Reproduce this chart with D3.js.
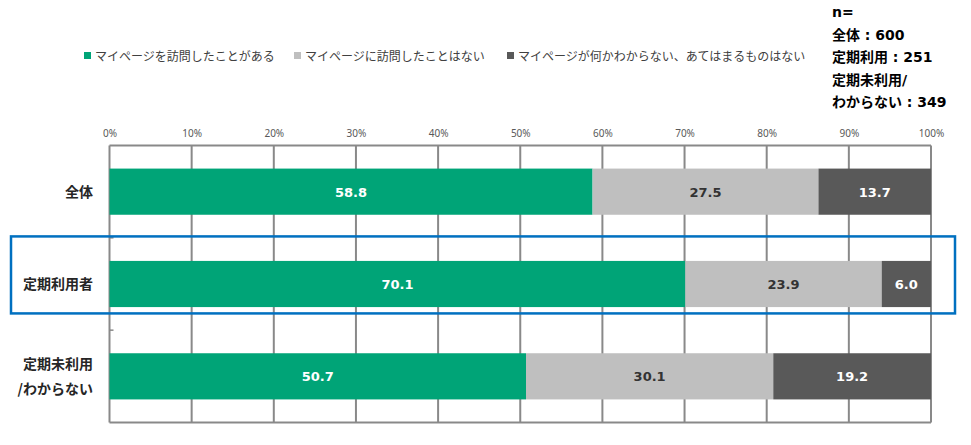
<!DOCTYPE html>
<html><head><meta charset="utf-8">
<script src="https://cdn.jsdelivr.net/npm/d3@7"></script>
<style>
body{margin:0;background:#fff;}
svg{display:block;}
</style></head>
<body>
<script>
const categories = [["全体"], ["定期利用者"], ["定期未利用", "/わからない"]];
const seriesNames = ["マイページを訪問したことがある", "マイページに訪問したことはない", "マイページが何かわからない、あてはまるものはない"];
const visited = [58.8, 70.1, 50.7];
const notVisited = [27.5, 23.9, 30.1];
const unknown = [13.7, 6.0, 19.2];
const tickValues = [0, 10, 20, 30, 40, 50, 60, 70, 80, 90, 100];
const nLines = ["n=", "全体 : 600", "定期利用 : 251", "定期未利用/", "わからない : 349"];
const highlighted = 1;

const colors = ["#00A477", "#BFBFBF", "#595959"];
const labelColors = ["#ffffff", "#333333", "#ffffff"];

const W = 971, H = 445;
const svg = d3.select("body").append("svg").attr("width", W).attr("height", H);

const x = d3.scaleLinear().domain([0, 100]).range([109.5, 931]);
const y = d3.scaleBand().domain(d3.range(categories.length)).range([145.5, 422.5]).paddingInner(0.5).paddingOuter(0.25);

const series = [visited, notVisited, unknown];
const rows = categories.map((c, i) => ({i, v: series.map(s => s[i])}));
const stack = d3.stack().keys([0, 1, 2]).value((d, k) => d.v[k]);
const stacked = stack(rows);

// gridlines
const grid = svg.append("g");
grid.selectAll("line").data(tickValues).join("line")
  .attr("x1", d => x(d)).attr("x2", d => x(d))
  .attr("y1", 145.5).attr("y2", 422.5)
  .attr("stroke", "#898989").attr("stroke-width", 2);
grid.append("line").attr("x1", x(0)).attr("x2", x(100)).attr("y1", 145.5).attr("y2", 145.5).attr("stroke", "#898989").attr("stroke-width", 2);
grid.append("line").attr("x1", x(0)).attr("x2", x(100)).attr("y1", 422.5).attr("y2", 422.5).attr("stroke", "#898989").attr("stroke-width", 2);

// category boundary ticks
const step = y.step();
[1, 2].forEach(k => {
  const yy = 145.5 + k * step;
  grid.append("line").attr("x1", x(0)).attr("x2", x(0) + 4).attr("y1", yy).attr("y2", yy)
    .attr("stroke", "#898989").attr("stroke-width", 1.5);
});

// x axis labels on top
const xAxis = d3.axisTop(x).tickValues(tickValues).tickFormat(d => d + "%").tickSize(0).tickPadding(0);
const ax = svg.append("g").attr("transform", "translate(0,137)").call(xAxis);
ax.select(".domain").remove();
ax.selectAll("text").attr("font-family", "'Noto Sans', sans-serif").attr("font-size", 10).attr("fill", "#595959");

// bars
stacked.forEach((layer, k) => {
  const g = svg.append("g");
  g.selectAll("rect").data(layer).join("rect")
    .attr("x", d => x(d[0])).attr("width", d => x(d[1]) - x(d[0]))
    .attr("y", (d, i) => y(i)).attr("height", y.bandwidth())
    .attr("fill", colors[k]);
  g.selectAll("text").data(layer).join("text")
    .attr("x", d => (x(d[0]) + x(d[1])) / 2)
    .attr("y", (d, i) => y(i) + y.bandwidth() / 2 + 5)
    .attr("text-anchor", "middle")
    .attr("font-family", "'DejaVu Sans', Verdana, sans-serif").attr("font-weight", "bold").attr("font-size", 13)
    .attr("fill", labelColors[k])
    .text((d, i) => series[k][i].toFixed(1));
});

// category labels
categories.forEach((lines, i) => {
  const cy = y(i) + y.bandwidth() / 2;
  const t = svg.append("text").attr("text-anchor", "end")
    .attr("font-family", "'Noto Sans CJK JP', sans-serif").attr("font-weight", "bold").attr("font-size", 14)
    .attr("fill", "#262626");
  const lh = 25;
  lines.forEach((l, j) => {
    t.append("tspan").attr("x", 93).attr("y", cy + 5 + (j - (lines.length - 1) / 2) * lh).text(l);
  });
});

// highlight box
svg.append("rect")
  .attr("x", 11).attr("y", y(highlighted) - 24.5)
  .attr("width", 944).attr("height", 77)
  .attr("fill", "none").attr("stroke", "#0070C0").attr("stroke-width", 2.5);

// legend
const legendX = [84, 294, 507];
const legend = svg.append("g");
seriesNames.forEach((name, k) => {
  legend.append("rect").attr("x", legendX[k]).attr("y", 52).attr("width", 7).attr("height", 7).attr("fill", colors[k]);
  legend.append("text").attr("x", legendX[k] + 11).attr("y", 60.5)
    .attr("font-family", "'Noto Sans CJK JP', sans-serif").attr("font-size", 12).attr("fill", "#404040")
    .text(name);
});

// n= annotation
const nText = svg.append("text").attr("font-family", "'DejaVu Sans', 'Noto Sans CJK JP', sans-serif")
  .attr("font-weight", "bold").attr("font-size", 14).attr("fill", "#000");
nLines.forEach((l, j) => {
  nText.append("tspan").attr("x", 832).attr("y", 17 + j * 22.5).text(l);
});
</script>
</body></html>
